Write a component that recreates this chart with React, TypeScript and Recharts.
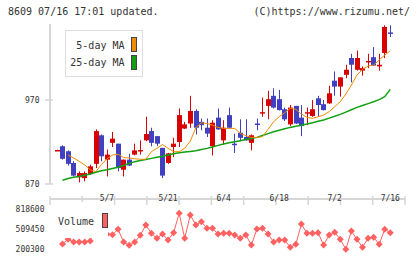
import { ComposedChart, LineChart, Bar, Line, XAxis, YAxis } from 'recharts';

const FONT = '"DejaVu Sans Mono", monospace';
const TEXT = '#333';
const AXIS = '#d6d6d6';
const RED = '#d80000';
const BLUE = '#4040c0';
const MA5_COLOR = '#f08c00';
const MA25_COLOR = '#10a010';
const VOL_COLOR = '#ff6060';

// one entry per trading day, oldest first
const opens = [
  910, 915, 909, 895, 878, 877, 882, 894, 928, 899, 919, 918, 887, 899, 905, 910, 922, 933, 927, 913,
  895, 914, 920, 936, 942, 957, 944, 937, 915, 949, 922, 952, 918, 931, 926, 919, 942, 955, 963, 975,
  971, 959, 941, 963, 949, 955, 951, 972, 965, 966, 993, 986, 1000, 1020, 1006, 1005, 1016, 1021, 1010, 1026,
  1050.5,
];
const closes = [
  910.5, 900, 894, 880, 883, 883, 891, 933, 903, 905, 924, 889, 899, 892, 910, 910.5, 929.5, 919, 918, 880,
  906.5, 918, 952, 941, 957, 937, 940, 930, 943, 935, 937, 937, 917.5, 925, 922, 928, 941.5, 955.5, 971, 961,
  958, 947, 961, 942, 939, 955.5, 959, 964, 958, 978, 986, 997, 1006, 1012, 1020, 1008, 1016.5, 1011, 1012, 1057,
  1050,
];
const highs = [
  910.8, 916, 910, 897, 885, 885, 893, 935, 929, 911, 932, 918, 899, 906, 918, 922, 950, 937, 927, 913,
  907, 925, 960, 944, 975, 959, 948, 948, 946, 960, 946, 961, 930, 947, 947, 929, 948, 973, 981, 984,
  982, 961, 964, 963, 964, 961, 970, 975, 970, 987, 1004, 997, 1012, 1025, 1029, 1010, 1025, 1033, 1025, 1059,
  1059,
];
const lows = [
  909.5, 899, 892, 879, 872, 873, 881, 889, 897, 879, 914, 885, 879, 891.5, 904, 905, 921, 915, 915, 877,
  894, 902, 914, 935.5, 937, 929, 934, 926, 904, 934.5, 917, 936, 907, 922, 921.5, 910, 934, 950, 947, 960,
  957.5, 945, 939, 941.5, 927, 940, 950, 950, 957.5, 965.5, 975, 974, 996, 991, 1005, 999, 1008, 1010.5, 1005, 1020,
  1045,
];
const ma5 = [
  null, null, 904.5, 901, 897, 892.6, 887, 884.7, 893, 900, 904.5, 905.3, 901.5, 901, 900, 899.5, 899.4, 908.5, 912.5, 917,
  912.5, 908.5, 908.5, 912.5, 921, 937, 943, 942, 940, 937.4, 936.2, 936.2, 936.2, 930.3, 927.5, 925.5, 925.5, 926.3, 935, 944.2,
  950.1, 954.9, 960, 958.9, 953.3, 949.3, 948.1, 950.1, 952.1, 956.1, 962, 968, 977.1, 987.8, 999.7, 1006.5, 1010.4, 1011.6, 1017.6, 1023.5,
  1028.7,
];
const ma25 = [
  null, 874.5, 876.5, 878, 879, 880.5, 882, 884, 885.8, 887, 888.5, 890, 892, 894.5, 896.6, 898, 899.3, 900.5, 901.8, 903,
  904.5, 906, 907.3, 908, 908.8, 909.6, 911, 912.4, 914, 916, 917.6, 919, 920.3, 921.6, 923, 924.2, 925.5, 927.8, 930, 932.3,
  934, 935.7, 937.4, 938.7, 940, 941.4, 943, 944.6, 946.2, 948.4, 950.6, 952.9, 955.6, 958.4, 961.2, 963.5, 965.7, 968, 970.5, 974,
  982.7,
];
const volumes = [
  null, 277600, 350200, 308500, 308500, 308500, 324000, 560000, 480000, 430000, 420000, 504800, 308500, 257500, 308500, 412100, 571300, 443000, 365700, 432200,
  339400, 452300, 752100, 365700, 725900, 571300, 622300, 520300, 520300, 432200, 443000, 443000, 416700, 365700, 416700, 262100, 509450, 520300, 432200, 308500,
  339400, 339400, 226600, 273000, 586700, 443000, 443000, 452300, 262100, 416700, 458400, 350200, 195700, 478500, 350200, 226600, 365700, 381200, 273000, 504800,
  452300,
];

const dateIdx = [9, 20, 30, 40, 50, 60];
const dateLabels = ['5/7', '5/21', '6/4', '6/18', '7/2', '7/16'];
const priceTicks = [870, 970];
const volTicks = [200300, 509450, 818600];

const X_DOMAIN: [number, number] = [-1.25, 62.65];
const xTicks = Array.from({ length: 12 }, (_, k) => X_DOMAIN[0] + ((X_DOMAIN[1] - X_DOMAIN[0]) * k) / 11);

const data = opens.map((o, i) => ({
  i,
  open: o,
  close: closes[i],
  range: [lows[i], highs[i]],
  ma5: ma5[i],
  ma25: ma25[i],
  vol: volumes[i],
}));

function Candle(props: any) {
  const { x, y, width, height, payload } = props;
  const [low, high] = payload.range;
  const k = height / (high - low);
  const top = y + (high - Math.max(payload.open, payload.close)) * k;
  const bot = y + (high - Math.min(payload.open, payload.close)) * k;
  const color = payload.close >= payload.open ? RED : BLUE;
  const cx = Math.round(x + width / 2) + 0.5;
  return (
    <g>
      <line x1={cx} x2={cx} y1={y} y2={y + height} stroke={color} strokeWidth={1} />
      <rect x={cx - 2.5} y={top} width={5} height={Math.max(bot - top, 1.5)} fill={color} />
    </g>
  );
}

function XTick({ x, y }: any) {
  return <line x1={x} x2={x} y1={y - 3} y2={y + 6} stroke={AXIS} strokeWidth={1.5} />;
}

function DateTick({ x, y, payload }: any) {
  return (
    <text x={x} y={y + 17} textAnchor="middle" fontSize={8} fontFamily={FONT} fill={TEXT}>
      {dateLabels[dateIdx.indexOf(payload.value)]}
    </text>
  );
}

function YTick({ x, y, payload }: any) {
  return (
    <g>
      <line x1={x - 5} x2={x + 3} y1={y} y2={y} stroke={AXIS} strokeWidth={1.5} />
      <text x={x - 10.5} y={y + 3} textAnchor="end" fontSize={8} fontFamily={FONT} fill={TEXT}>
        {payload.value}
      </text>
    </g>
  );
}

function Diamond(props: any) {
  const { cx, cy, value } = props;
  if (value == null || cx == null || cy == null) return null;
  const r = 3.5;
  return <polygon points={`${cx},${cy - r} ${cx + r},${cy} ${cx},${cy + r} ${cx - r},${cy}`} fill={VOL_COLOR} />;
}

const swatch = (color: string, top: number, left: number) => (
  <div
    style={{
      position: 'absolute',
      left,
      top,
      width: 6,
      height: 15,
      boxSizing: 'border-box',
      border: '1px solid #444',
      background: color,
    }}
  />
);

const label = (text: string, right: number, top: number) => (
  <div style={{ position: 'absolute', right: 420 - right, top, fontSize: 10, lineHeight: '10px', whiteSpace: 'pre' }}>{text}</div>
);

export default function App() {
  return (
    <div
      style={{
        position: 'absolute',
        left: 0,
        top: 0,
        width: 420,
        height: 259,
        background: '#fff',
        overflow: 'hidden',
        fontFamily: FONT,
        color: TEXT,
      }}
    >
      <div style={{ position: 'absolute', left: 8, top: 7, fontSize: 10, lineHeight: '10px' }}>8609 07/16 17:01 updated.</div>
      <div style={{ position: 'absolute', right: 10, top: 7, fontSize: 10, lineHeight: '10px' }}>(C)https://www.rizumu.net/</div>

      <div style={{ position: 'absolute', left: 0, top: 0 }}>
        <ComposedChart width={420} height={205} data={data} margin={{ top: 24, right: 15, bottom: 0, left: 0 }}>
          <XAxis
            xAxisId="t"
            dataKey="i"
            type="number"
            domain={X_DOMAIN}
            ticks={xTicks}
            interval={0}
            axisLine={{ stroke: AXIS, strokeWidth: 2 }}
            tickLine={false}
            tickSize={0}
            tickMargin={0}
            tick={<XTick />}
            height={6}
          />
          <XAxis
            xAxisId="d"
            dataKey="i"
            type="number"
            domain={X_DOMAIN}
            ticks={dateIdx}
            interval={0}
            axisLine={false}
            tickLine={false}
            tickSize={0}
            tickMargin={0}
            tick={<DateTick />}
            height={15}
          />
          <YAxis
            domain={[870, 1060.5]}
            ticks={priceTicks}
            interval={0}
            width={50}
            axisLine={{ stroke: AXIS, strokeWidth: 2 }}
            tickLine={false}
            tickSize={0}
            tickMargin={0}
            tick={<YTick />}
          />
          <Bar xAxisId="t" dataKey="range" barSize={5} shape={<Candle />} isAnimationActive={false} />
          <Line xAxisId="t" dataKey="ma25" stroke={MA25_COLOR} strokeWidth={1.5} dot={false} isAnimationActive={false} />
          <Line xAxisId="t" dataKey="ma5" stroke={MA5_COLOR} strokeWidth={1} dot={false} isAnimationActive={false} />
        </ComposedChart>
      </div>

      <div style={{ position: 'absolute', left: 0, top: 200 }}>
        <LineChart width={420} height={59} data={data} margin={{ top: 7, right: 15, bottom: 8, left: 0 }}>
          <XAxis dataKey="i" type="number" domain={X_DOMAIN} hide />
          <YAxis
            domain={[169385, 849515]}
            ticks={volTicks}
            interval={0}
            width={50}
            axisLine={false}
            tickLine={false}
            tickSize={0}
            tickMargin={5.5}
            tick={{ fontSize: 8, fontFamily: FONT, fill: TEXT }}
          />
          <Line dataKey="vol" stroke={VOL_COLOR} strokeWidth={1} dot={<Diamond />} isAnimationActive={false} />
        </LineChart>
      </div>

      <div
        style={{
          position: 'absolute',
          left: 65,
          top: 30,
          width: 78,
          height: 47,
          boxSizing: 'border-box',
          border: '1px solid #ddd',
          background: '#fff',
        }}
      />
      {label('5-day MA', 124.5, 41)}
      {label('25-day MA', 124.5, 57.5)}
      {swatch(MA5_COLOR, 37, 131)}
      {swatch(MA25_COLOR, 54.5, 131)}

      <div style={{ position: 'absolute', left: 55, top: 202, width: 53, height: 36, background: '#fff' }} />
      <div style={{ position: 'absolute', left: 58, top: 217, fontSize: 10, lineHeight: '10px' }}>Volume</div>
      {swatch(VOL_COLOR, 213, 101.5)}
    </div>
  );
}
